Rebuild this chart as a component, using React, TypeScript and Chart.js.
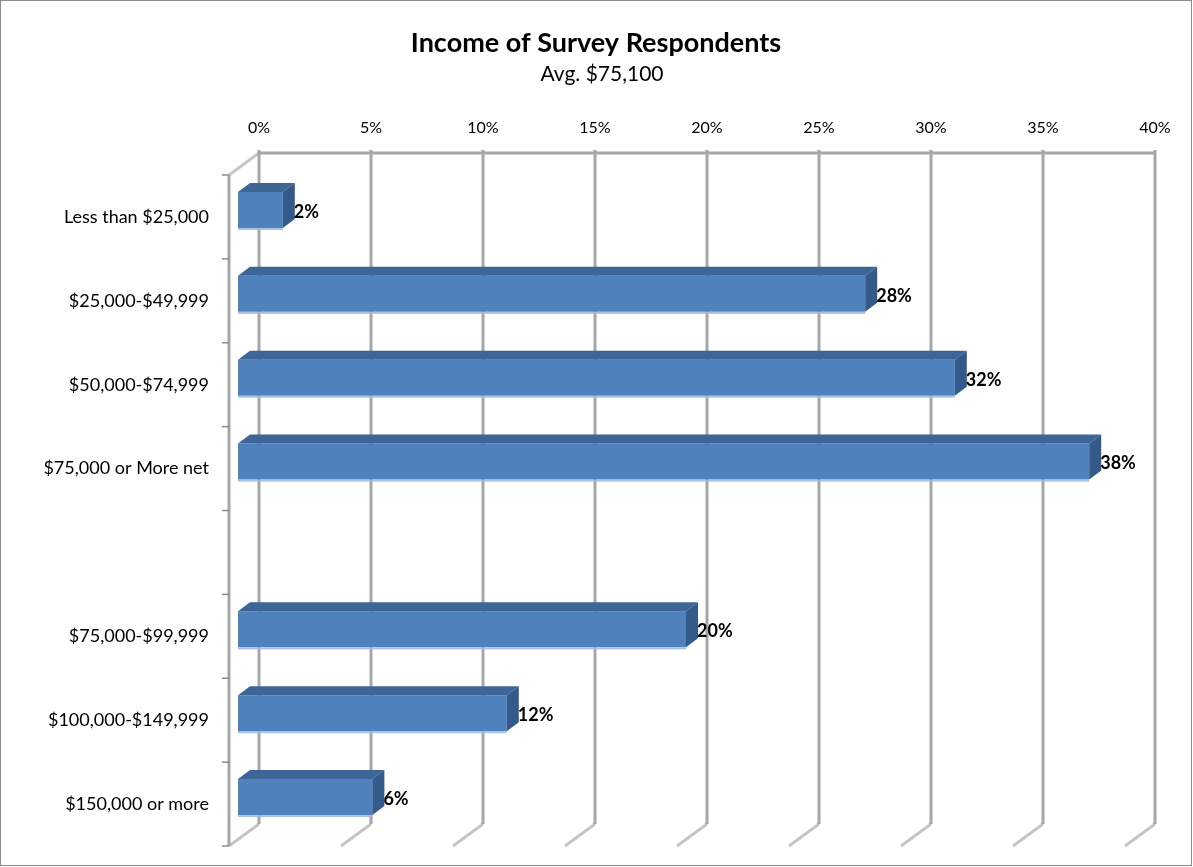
import React, { useEffect, useRef } from "react";
import { Chart, registerables } from "chart.js";

Chart.register(...registerables);

const TITLE = "Income of Survey Respondents";
const SUBTITLE = "Avg. $75,100";
const categories = [
  "Less than $25,000",
  "$25,000-$49,999",
  "$50,000-$74,999",
  "$75,000 or More net",
  "",
  "$75,000-$99,999",
  "$100,000-$149,999",
  "$150,000 or more",
];
const shares: (number | null)[] = [2, 28, 32, 38, null, 20, 12, 6];
const axisMin = 0;
const axisMax = 40;
const axisStep = 5;

const FONT = "Lato, 'Noto Sans', sans-serif";
const W = 1193;
const H = 867;

const WALL_DX = 30;
const WALL_DY = 22;
const BAR_DX = -21;
const BAR_DY = -7;
const FACE_DX = 12;
const FACE_DY = 9;

const zeroPad = (s: any) => {
  s.paddingTop = 0;
  s.paddingBottom = 0;
  s.paddingLeft = 0;
  s.paddingRight = 0;
};

const excel3d = {
  id: "excel3d",
  beforeDraw(chart: any) {
    const { ctx, width, height } = chart;
    ctx.save();
    ctx.fillStyle = "#ffffff";
    ctx.fillRect(0, 0, width, height);
    ctx.strokeStyle = "#8a8a8a";
    ctx.lineWidth = 1;
    ctx.strokeRect(0.5, 0.5, width - 2, height - 2);
    ctx.fillStyle = "#000";
    ctx.textAlign = "center";
    ctx.textBaseline = "middle";
    ctx.font = `bold 27px ${FONT}`;
    ctx.fillText(TITLE, 596, 43);
    ctx.font = `21px ${FONT}`;
    ctx.fillText(SUBTITLE, 602, 74);
    ctx.restore();
  },
  beforeDatasetsDraw(chart: any) {
    const { ctx, chartArea: a, scales } = chart;
    const xs = scales.x;
    const ys = scales.y;
    const backTop = a.top - WALL_DY;
    const backBottom = a.bottom - WALL_DY;
    const frontX = a.left - WALL_DX;
    ctx.save();
    ctx.lineCap = "butt";
    // floor diagonals
    ctx.strokeStyle = "#c6c6c6";
    ctx.lineWidth = 3;
    xs.ticks.forEach((t: any) => {
      const px = xs.getPixelForValue(t.value);
      ctx.beginPath();
      ctx.moveTo(px, backBottom);
      ctx.lineTo(px - WALL_DX, a.bottom);
      ctx.stroke();
    });
    // left wall top edge
    ctx.beginPath();
    ctx.moveTo(frontX, a.top);
    ctx.lineTo(a.left, backTop);
    ctx.stroke();
    // back wall gridlines
    ctx.strokeStyle = "#a6a6a6";
    xs.ticks.forEach((t: any) => {
      const px = xs.getPixelForValue(t.value);
      ctx.beginPath();
      ctx.moveTo(px, backTop - 3);
      ctx.lineTo(px, backBottom);
      ctx.stroke();
    });
    ctx.beginPath();
    ctx.moveTo(a.left, backTop);
    ctx.lineTo(a.right, backTop);
    ctx.stroke();
    // front category axis
    ctx.beginPath();
    ctx.moveTo(frontX, a.top);
    ctx.lineTo(frontX, a.bottom);
    ctx.stroke();
    // category tick marks
    const n = categories.length;
    const step = ys.getPixelForValue(1) - ys.getPixelForValue(0);
    ctx.lineWidth = 1.5;
    ctx.strokeStyle = "#8c8c8c";
    for (let k = 0; k <= n; k++) {
      const py = ys.getPixelForValue(0) - step / 2 + k * step;
      ctx.beginPath();
      ctx.moveTo(frontX - 7, py);
      ctx.lineTo(frontX, py);
      ctx.stroke();
    }
    ctx.restore();
    ctx.save();
    ctx.translate(BAR_DX, BAR_DY);
  },
  afterDatasetsDraw(chart: any) {
    const { ctx } = chart;
    const meta = chart.getDatasetMeta(0);
    const items: any[] = [];
    meta.data.forEach((el: any, i: number) => {
      const v = shares[i];
      if (v === null || v === undefined) return;
      const p = el.getProps(["x", "y", "base", "height"], true);
      const x0 = p.base;
      const x1 = p.x;
      const yT = p.y - p.height / 2;
      const yB = p.y + p.height / 2;
      // top face
      ctx.fillStyle = "#3d6596";
      ctx.beginPath();
      ctx.moveTo(x0, yT);
      ctx.lineTo(x1, yT);
      ctx.lineTo(x1 + FACE_DX, yT - FACE_DY);
      ctx.lineTo(x0 + FACE_DX, yT - FACE_DY);
      ctx.closePath();
      ctx.fill();
      // side face
      ctx.fillStyle = "#345a8a";
      ctx.beginPath();
      ctx.moveTo(x1, yT);
      ctx.lineTo(x1 + FACE_DX, yT - FACE_DY);
      ctx.lineTo(x1 + FACE_DX, yB - FACE_DY);
      ctx.lineTo(x1, yB);
      ctx.closePath();
      ctx.fill();
      // bottom highlight
      ctx.fillStyle = "rgba(160,186,222,0.9)";
      ctx.fillRect(x0, yB, x1 - x0, 2);
      items.push({ v, x: x1 + BAR_DX + 11, y: p.y + BAR_DY + 2 });
    });
    ctx.restore();
    ctx.save();
    ctx.fillStyle = "#000";
    ctx.font = `bold 18px ${FONT}`;
    ctx.textAlign = "left";
    ctx.textBaseline = "middle";
    items.forEach((it) => ctx.fillText(`${Math.round(it.v)}%`, it.x, it.y));
    ctx.restore();
  },
};

export default function App() {
  const ref = useRef<HTMLCanvasElement | null>(null);
  useEffect(() => {
    if (!ref.current) return;
    const chart = new Chart(ref.current, {
      type: "bar",
      data: {
        labels: categories,
        datasets: [
          {
            data: shares as any,
            backgroundColor: "#4f81bd",
            borderWidth: 0,
            barPercentage: 0.43,
            categoryPercentage: 1,
            clip: false as any,
          },
        ],
      },
      options: {
        indexAxis: "y",
        responsive: false,
        animation: false,
        events: [],
        layout: { padding: { left: 0, right: 38, top: 100, bottom: 21 } },
        plugins: {
          legend: { display: false },
          tooltip: { enabled: false },
          title: { display: false },
        },
        scales: {
          x: {
            position: "top",
            min: axisMin,
            max: axisMax,
            grid: { display: false, drawTicks: false },
            border: { display: false },
            ticks: {
              stepSize: axisStep,
              padding: 38,
              color: "#000",
              font: { family: FONT, size: 16 },
              callback: (v: any) => `${v}%`,
            },
            afterFit: (s: any) => {
              s.height = 75;
              zeroPad(s);
            },
          },
          y: {
            grid: { display: false, drawTicks: false },
            border: { display: false },
            ticks: {
              padding: 50,
              color: "#000",
              font: { family: FONT, size: 18 },
            },
            afterFit: (s: any) => {
              s.width = 259;
              zeroPad(s);
            },
          },
        },
      },
      plugins: [excel3d],
    });
    return () => chart.destroy();
  }, []);
  return (
    <div style={{ position: "absolute", left: 0, top: 0, width: W, height: H }}>
      <canvas ref={ref} width={W} height={H} style={{ display: "block" }} />
    </div>
  );
}
